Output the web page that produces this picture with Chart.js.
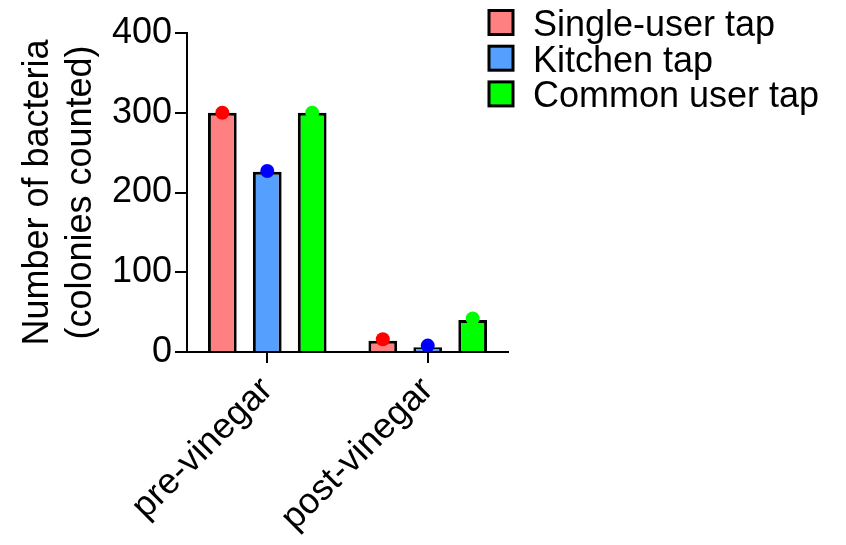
<!DOCTYPE html>
<html>
<head>
<meta charset="utf-8">
<script src="https://cdn.jsdelivr.net/npm/chart.js@4/dist/chart.umd.min.js"></script>
<style>
  html, body { margin: 0; padding: 0; background: #fff; }
  #wrap { width: 846px; height: 545px; }
</style>
</head>
<body>
<div id="wrap"><canvas id="bacteriaChart"></canvas></div>
<script>
// data
var categories = ['pre-vinegar', 'post-vinegar'];
var seriesNames = ['Single-user tap', 'Kitchen tap', 'Common user tap'];
var singleUserBars = [300, 14];
var kitchenBars = [226, 6];
var commonUserBars = [300, 40];
var singleUserDots = [300, 16];
var kitchenDots = [227, 8];
var commonUserDots = [300, 42];
var yTicks = [0, 100, 200, 300, 400];

var barColors = ['#ff8080', '#559fff', '#00ff00'];
var dotColors = ['#ff0000', '#0000ff', '#00ff00'];
var dotValues = [singleUserDots, kitchenDots, commonUserDots];
var FONT = '"Liberation Sans", Arial, sans-serif';

// individual points drawn on top of each bar
var dotPlugin = {
    id: 'dots',
    afterDatasetsDraw: function(chart) {
        var ctx = chart.ctx;
        var yScale = chart.scales.y;
        ctx.save();
        chart.data.datasets.forEach(function(ds, i) {
            chart.getDatasetMeta(i).data.forEach(function(bar, j) {
                ctx.beginPath();
                ctx.arc(bar.x, yScale.getPixelForValue(dotValues[i][j]), 7, 0, Math.PI * 2);
                ctx.fillStyle = dotColors[i];
                ctx.fill();
            });
        });
        ctx.restore();
    }
};

// legend in the top right, overlapping the plot's right edge like the original
var sideLegend = {
    id: 'sideLegend',
    afterDraw: function(chart) {
        var ctx = chart.ctx;
        ctx.save();
        ctx.font = '36px ' + FONT;
        ctx.textBaseline = 'alphabetic';
        chart.data.datasets.forEach(function(ds, i) {
            var top = 10.5 + i * 35.7;
            ctx.fillStyle = ds.backgroundColor;
            ctx.fillRect(489, top, 24, 24);
            ctx.lineWidth = 3;
            ctx.strokeStyle = '#000';
            ctx.strokeRect(489, top, 24, 24);
            ctx.fillStyle = '#000';
            ctx.fillText(ds.label, 533, top + 25.5);
        });
        ctx.restore();
    }
};

var datasets = [singleUserBars, kitchenBars, commonUserBars].map(function(values, i) {
    return {
        label: seriesNames[i],
        data: values,
        backgroundColor: barColors[i],
        borderColor: '#000',
        borderWidth: 3,
        categoryPercentage: 0.84,
        barPercentage: 0.64
    };
});

var ctx = document.getElementById('bacteriaChart');
var myBarChart = new Chart(ctx, {
    type: 'bar',
    data: { labels: categories, datasets: datasets },
    options: {
        responsive: true,
        maintainAspectRatio: false,
        devicePixelRatio: 1,
        animation: false,
        layout: { padding: { left: 16, top: 33, right: 338, bottom: 0 } },
        plugins: {
            legend: { display: false },
            tooltip: { enabled: false }
        },
        scales: {
            x: {
                z: 1,
                grid: { drawOnChartArea: false, offset: false, color: '#000', lineWidth: 2, tickLength: 11 },
                border: { display: true, color: '#000', width: 2 },
                ticks: {
                    autoSkip: false, minRotation: 45, maxRotation: 45, padding: 6,
                    color: '#000', font: { family: FONT, size: 36 }
                },
                afterFit: function(scale) { scale.height = 193; }
            },
            y: {
                min: 0,
                max: 400,
                afterBuildTicks: function(scale) {
                    scale.ticks = yTicks.map(function(v) { return { value: v }; });
                },
                grid: { drawOnChartArea: false, color: '#000', lineWidth: 2, tickLength: 12 },
                border: { display: true, color: '#000', width: 2 },
                ticks: { padding: 3, color: '#000', font: { family: FONT, size: 36 } },
                title: {
                    display: true,
                    text: ['Number of bacteria', '(colonies counted)'],
                    color: '#000',
                    font: { family: FONT, size: 36, lineHeight: 1.2 },
                    padding: { top: 0, bottom: 0 }
                },
                afterFit: function(scale) { scale.width = 171; }
            }
        }
    },
    plugins: [dotPlugin, sideLegend]
});
</script>
</body>
</html>
